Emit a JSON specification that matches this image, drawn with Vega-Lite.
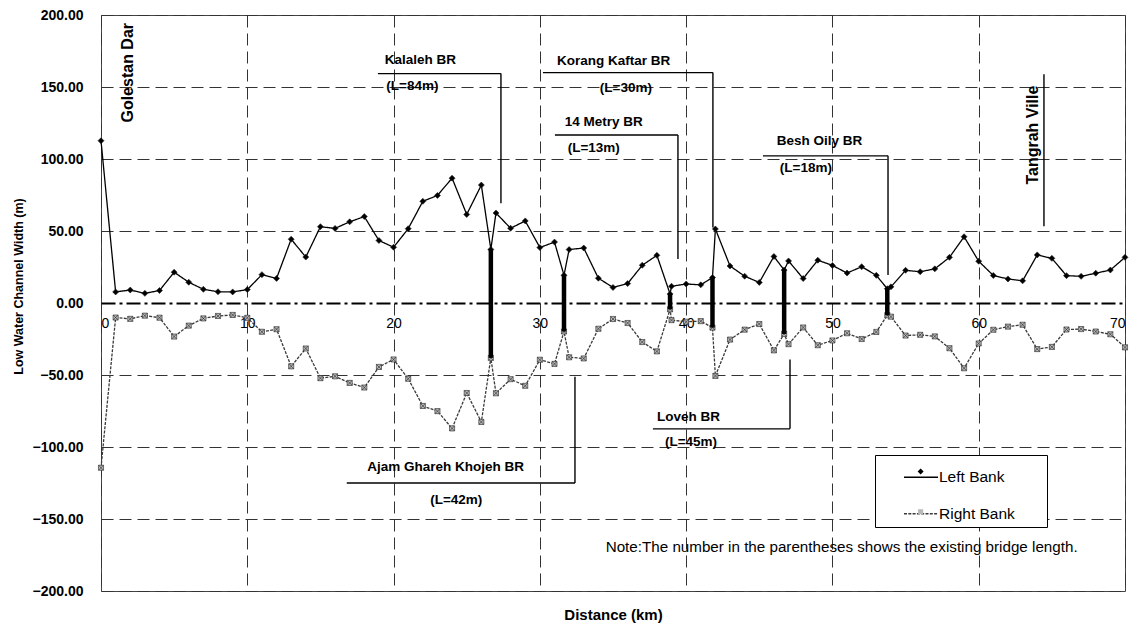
{
  "$schema": "https://vega.github.io/schema/vega-lite/v6.json",
  "width": 1024,
  "height": 576,
  "autosize": {"type": "none"},
  "padding": {"left": 101, "top": 15, "right": 4, "bottom": 32},
  "background": "#ffffff",
  "config": {
    "font": "Liberation Sans",
    "view": {"stroke": "#444444", "strokeWidth": 1}
  },
  "datasets": {
    "banks": [
      {"km": 0, "w": 112.7, "series": "Left Bank"},
      {"km": 1, "w": 7.7, "series": "Left Bank"},
      {"km": 2, "w": 9.0, "series": "Left Bank"},
      {"km": 3, "w": 6.7, "series": "Left Bank"},
      {"km": 4, "w": 8.7, "series": "Left Bank"},
      {"km": 5, "w": 21.4, "series": "Left Bank"},
      {"km": 6, "w": 14.4, "series": "Left Bank"},
      {"km": 7, "w": 9.5, "series": "Left Bank"},
      {"km": 8, "w": 7.8, "series": "Left Bank"},
      {"km": 9, "w": 7.7, "series": "Left Bank"},
      {"km": 10, "w": 9.3, "series": "Left Bank"},
      {"km": 11, "w": 19.7, "series": "Left Bank"},
      {"km": 12, "w": 17.1, "series": "Left Bank"},
      {"km": 13, "w": 44.3, "series": "Left Bank"},
      {"km": 14, "w": 31.9, "series": "Left Bank"},
      {"km": 15, "w": 53.0, "series": "Left Bank"},
      {"km": 16, "w": 51.8, "series": "Left Bank"},
      {"km": 17, "w": 56.4, "series": "Left Bank"},
      {"km": 18, "w": 60.0, "series": "Left Bank"},
      {"km": 19, "w": 43.4, "series": "Left Bank"},
      {"km": 20, "w": 38.7, "series": "Left Bank"},
      {"km": 21, "w": 51.6, "series": "Left Bank"},
      {"km": 22, "w": 70.6, "series": "Left Bank"},
      {"km": 23, "w": 74.7, "series": "Left Bank"},
      {"km": 24, "w": 86.7, "series": "Left Bank"},
      {"km": 25, "w": 61.5, "series": "Left Bank"},
      {"km": 26, "w": 81.9, "series": "Left Bank"},
      {"km": 26.65, "w": 37.2, "series": "Left Bank"},
      {"km": 27, "w": 62.5, "series": "Left Bank"},
      {"km": 28, "w": 51.9, "series": "Left Bank"},
      {"km": 29, "w": 57.0, "series": "Left Bank"},
      {"km": 30, "w": 38.5, "series": "Left Bank"},
      {"km": 31, "w": 42.3, "series": "Left Bank"},
      {"km": 31.65, "w": 19.3, "series": "Left Bank"},
      {"km": 32, "w": 37.1, "series": "Left Bank"},
      {"km": 33, "w": 38.2, "series": "Left Bank"},
      {"km": 34, "w": 17.2, "series": "Left Bank"},
      {"km": 35, "w": 10.8, "series": "Left Bank"},
      {"km": 36, "w": 13.5, "series": "Left Bank"},
      {"km": 37, "w": 26.2, "series": "Left Bank"},
      {"km": 38, "w": 33.1, "series": "Left Bank"},
      {"km": 38.9, "w": 6.3, "series": "Left Bank"},
      {"km": 39, "w": 11.6, "series": "Left Bank"},
      {"km": 40, "w": 13.2, "series": "Left Bank"},
      {"km": 41, "w": 12.6, "series": "Left Bank"},
      {"km": 41.8, "w": 17.7, "series": "Left Bank"},
      {"km": 42, "w": 51.4, "series": "Left Bank"},
      {"km": 43, "w": 25.7, "series": "Left Bank"},
      {"km": 44, "w": 18.6, "series": "Left Bank"},
      {"km": 45, "w": 14.3, "series": "Left Bank"},
      {"km": 46, "w": 32.3, "series": "Left Bank"},
      {"km": 46.7, "w": 22.9, "series": "Left Bank"},
      {"km": 47, "w": 29.2, "series": "Left Bank"},
      {"km": 48, "w": 17.0, "series": "Left Bank"},
      {"km": 49, "w": 29.7, "series": "Left Bank"},
      {"km": 50, "w": 26.1, "series": "Left Bank"},
      {"km": 51, "w": 20.8, "series": "Left Bank"},
      {"km": 52, "w": 25.2, "series": "Left Bank"},
      {"km": 53, "w": 19.2, "series": "Left Bank"},
      {"km": 53.75, "w": 9.9, "series": "Left Bank"},
      {"km": 54, "w": 11.2, "series": "Left Bank"},
      {"km": 55, "w": 22.7, "series": "Left Bank"},
      {"km": 56, "w": 21.7, "series": "Left Bank"},
      {"km": 57, "w": 23.7, "series": "Left Bank"},
      {"km": 58, "w": 31.7, "series": "Left Bank"},
      {"km": 59, "w": 46.0, "series": "Left Bank"},
      {"km": 60, "w": 29.0, "series": "Left Bank"},
      {"km": 61, "w": 19.1, "series": "Left Bank"},
      {"km": 62, "w": 16.7, "series": "Left Bank"},
      {"km": 63, "w": 15.4, "series": "Left Bank"},
      {"km": 64, "w": 33.4, "series": "Left Bank"},
      {"km": 65, "w": 31.0, "series": "Left Bank"},
      {"km": 66, "w": 19.0, "series": "Left Bank"},
      {"km": 67, "w": 18.5, "series": "Left Bank"},
      {"km": 68, "w": 20.7, "series": "Left Bank"},
      {"km": 69, "w": 22.9, "series": "Left Bank"},
      {"km": 70, "w": 31.7, "series": "Left Bank"},
      {"km": 0, "w": -114.4, "series": "Right Bank"},
      {"km": 1, "w": -10.1, "series": "Right Bank"},
      {"km": 2, "w": -11.0, "series": "Right Bank"},
      {"km": 3, "w": -8.8, "series": "Right Bank"},
      {"km": 4, "w": -10.2, "series": "Right Bank"},
      {"km": 5, "w": -23.3, "series": "Right Bank"},
      {"km": 6, "w": -15.7, "series": "Right Bank"},
      {"km": 7, "w": -10.7, "series": "Right Bank"},
      {"km": 8, "w": -9.0, "series": "Right Bank"},
      {"km": 9, "w": -8.3, "series": "Right Bank"},
      {"km": 10, "w": -10.3, "series": "Right Bank"},
      {"km": 11, "w": -20.0, "series": "Right Bank"},
      {"km": 12, "w": -18.2, "series": "Right Bank"},
      {"km": 13, "w": -44.0, "series": "Right Bank"},
      {"km": 14, "w": -31.6, "series": "Right Bank"},
      {"km": 15, "w": -52.2, "series": "Right Bank"},
      {"km": 16, "w": -50.9, "series": "Right Bank"},
      {"km": 17, "w": -55.5, "series": "Right Bank"},
      {"km": 18, "w": -58.7, "series": "Right Bank"},
      {"km": 19, "w": -44.4, "series": "Right Bank"},
      {"km": 20, "w": -39.2, "series": "Right Bank"},
      {"km": 21, "w": -52.6, "series": "Right Bank"},
      {"km": 22, "w": -71.5, "series": "Right Bank"},
      {"km": 23, "w": -75.1, "series": "Right Bank"},
      {"km": 24, "w": -87.1, "series": "Right Bank"},
      {"km": 25, "w": -62.5, "series": "Right Bank"},
      {"km": 26, "w": -82.6, "series": "Right Bank"},
      {"km": 26.65, "w": -38.1, "series": "Right Bank"},
      {"km": 27, "w": -62.7, "series": "Right Bank"},
      {"km": 28, "w": -52.9, "series": "Right Bank"},
      {"km": 29, "w": -57.5, "series": "Right Bank"},
      {"km": 30, "w": -39.4, "series": "Right Bank"},
      {"km": 31, "w": -42.3, "series": "Right Bank"},
      {"km": 31.65, "w": -19.8, "series": "Right Bank"},
      {"km": 32, "w": -37.7, "series": "Right Bank"},
      {"km": 33, "w": -38.5, "series": "Right Bank"},
      {"km": 34, "w": -17.9, "series": "Right Bank"},
      {"km": 35, "w": -11.1, "series": "Right Bank"},
      {"km": 36, "w": -13.9, "series": "Right Bank"},
      {"km": 37, "w": -27.1, "series": "Right Bank"},
      {"km": 38, "w": -33.6, "series": "Right Bank"},
      {"km": 38.9, "w": -4.4, "series": "Right Bank"},
      {"km": 39, "w": -11.9, "series": "Right Bank"},
      {"km": 40, "w": -13.0, "series": "Right Bank"},
      {"km": 41, "w": -12.6, "series": "Right Bank"},
      {"km": 41.8, "w": -17.1, "series": "Right Bank"},
      {"km": 42, "w": -50.6, "series": "Right Bank"},
      {"km": 43, "w": -25.4, "series": "Right Bank"},
      {"km": 44, "w": -18.5, "series": "Right Bank"},
      {"km": 45, "w": -14.6, "series": "Right Bank"},
      {"km": 46, "w": -32.9, "series": "Right Bank"},
      {"km": 46.7, "w": -21.5, "series": "Right Bank"},
      {"km": 47, "w": -28.6, "series": "Right Bank"},
      {"km": 48, "w": -17.0, "series": "Right Bank"},
      {"km": 49, "w": -29.3, "series": "Right Bank"},
      {"km": 50, "w": -26.0, "series": "Right Bank"},
      {"km": 51, "w": -21.0, "series": "Right Bank"},
      {"km": 52, "w": -25.0, "series": "Right Bank"},
      {"km": 53, "w": -20.1, "series": "Right Bank"},
      {"km": 53.75, "w": -8.5, "series": "Right Bank"},
      {"km": 54, "w": -9.5, "series": "Right Bank"},
      {"km": 55, "w": -22.6, "series": "Right Bank"},
      {"km": 56, "w": -22.1, "series": "Right Bank"},
      {"km": 57, "w": -23.2, "series": "Right Bank"},
      {"km": 58, "w": -31.4, "series": "Right Bank"},
      {"km": 59, "w": -45.3, "series": "Right Bank"},
      {"km": 60, "w": -28.1, "series": "Right Bank"},
      {"km": 61, "w": -18.6, "series": "Right Bank"},
      {"km": 62, "w": -16.4, "series": "Right Bank"},
      {"km": 63, "w": -15.1, "series": "Right Bank"},
      {"km": 64, "w": -32.0, "series": "Right Bank"},
      {"km": 65, "w": -30.5, "series": "Right Bank"},
      {"km": 66, "w": -18.4, "series": "Right Bank"},
      {"km": 67, "w": -18.1, "series": "Right Bank"},
      {"km": 68, "w": -19.8, "series": "Right Bank"},
      {"km": 69, "w": -21.7, "series": "Right Bank"},
      {"km": 70, "w": -30.8, "series": "Right Bank"}
    ],
    "bridges": [
      {"km": 26.65, "top": 37.2, "bottom": -38.1},
      {"km": 31.65, "top": 19.3, "bottom": -19.8},
      {"km": 38.9, "top": 6.3, "bottom": -4.4},
      {"km": 41.8, "top": 17.7, "bottom": -17.1},
      {"km": 46.7, "top": 22.9, "bottom": -21.5},
      {"km": 53.75, "top": 9.9, "bottom": -8.5}
    ],
    "leaders": [
      {"x1": 18.93, "y1": 159.3, "x2": 27.34, "y2": 159.3},
      {"x1": 27.34, "y1": 159.3, "x2": 27.34, "y2": 69.3},
      {"x1": 30.21, "y1": 160.0, "x2": 41.83, "y2": 160.0},
      {"x1": 41.83, "y1": 160.0, "x2": 41.83, "y2": 52.4},
      {"x1": 31.03, "y1": 116.7, "x2": 39.44, "y2": 116.7},
      {"x1": 39.44, "y1": 116.7, "x2": 39.44, "y2": 30.6},
      {"x1": 45.25, "y1": 102.2, "x2": 53.8, "y2": 102.2},
      {"x1": 53.8, "y1": 102.2, "x2": 53.8, "y2": 19.4},
      {"x1": 64.46, "y1": 158.9, "x2": 64.46, "y2": 53.3},
      {"x1": 16.8, "y1": -125.0, "x2": 32.4, "y2": -125.0},
      {"x1": 32.4, "y1": -125.0, "x2": 32.4, "y2": -51.3},
      {"x1": 37.73, "y1": -87.4, "x2": 47.1, "y2": -87.4},
      {"x1": 47.1, "y1": -87.4, "x2": 47.1, "y2": -39.2}
    ],
    "labels": [
      {"km": 19.4, "v": 168.5, "text": "Kalaleh BR"},
      {"km": 19.5, "v": 150.5, "text": "(L=84m)"},
      {"km": 31.17, "v": 168.2, "text": "Korang Kaftar BR"},
      {"km": 34.1, "v": 149.6, "text": "(L=30m)"},
      {"km": 31.7, "v": 125.8, "text": "14 Metry BR"},
      {"km": 31.9, "v": 107.8, "text": "(L=13m)"},
      {"km": 46.2, "v": 112.6, "text": "Besh Oily BR"},
      {"km": 46.4, "v": 93.9, "text": "(L=18m)"},
      {"km": 18.2, "v": -113.7, "text": "Ajam Ghareh Khojeh BR"},
      {"km": 22.5, "v": -137.1, "text": "(L=42m)"},
      {"km": 38.0, "v": -79.0, "text": "Loveh BR"},
      {"km": 38.55, "v": -96.5, "text": "(L=45m)"}
    ],
    "vlabels": [
      {"km": 1.85, "v": 159.9, "text": "Golestan Dar"},
      {"km": 63.7, "v": 116.6, "text": "Tangrah Ville"}
    ],
    "notes": [
      {"km": 34.5, "v": -169.7, "text": "Note:The number in the parentheses shows the existing bridge length."}
    ]
  },
  "layer": [
    {
      "data": {"name": "banks"},
      "mark": {"type": "line", "strokeWidth": 1.3},
      "encoding": {
        "x": {
          "field": "km", "type": "quantitative",
          "scale": {"domain": [0, 70], "nice": false},
          "axis": {
            "title": "Distance (km)",
            "values": [0, 10, 20, 30, 40, 50, 60, 70],
            "grid": true, "gridDash": [12, 6], "gridColor": "#333333", "gridWidth": 1,
            "domain": false, "ticks": false, "tickSize": 0,
            "labelPadding": -275, "labelFlush": true,
            "labelFontSize": 14, "labelColor": "#000000",
            "titleFontSize": 15, "titleFontWeight": "bold", "titleColor": "#000000",
            "titleY": 16, "titleBaseline": "top"
          }
        },
        "y": {
          "field": "w", "type": "quantitative",
          "scale": {"domain": [-200, 200], "nice": false},
          "axis": {
            "title": "Low Water Channel Width (m)",
            "values": [-200, -150, -100, -50, 0, 50, 100, 150, 200],
            "format": ".2f",
            "grid": true,
            "gridDash": {"condition": {"test": "datum.value === 0", "value": [14, 4, 3, 4]}, "value": [12, 6]},
            "gridWidth": {"condition": {"test": "datum.value === 0", "value": 2}, "value": 1},
            "gridColor": {"condition": {"test": "datum.value === 0", "value": "#000000"}, "value": "#333333"},
            "domain": false, "ticks": false, "tickSize": 0,
            "labelPadding": 18,
            "labelFontSize": 14, "labelFontWeight": "bold", "labelColor": "#000000",
            "titleFontSize": 12.5, "titleFontWeight": "bold", "titleColor": "#000000",
            "titleX": -83, "titleY": 271, "titleBaseline": "middle", "titleAlign": "center"
          }
        },
        "stroke": {
          "field": "series", "type": "nominal",
          "scale": {"domain": ["Left Bank", "Right Bank"], "range": ["#000000", "#3a3a3a"]},
          "legend": {
            "orient": "none", "legendX": 774, "legendY": 440, "title": " ",
            "titleOrient": "right", "titlePadding": 27, "titleFontSize": 15,
            "symbolType": "stroke", "symbolSize": 1156, "symbolStrokeWidth": 1.3,
            "padding": 4.25, "rowPadding": 9.5, "symbolOffset": 23.75, "labelOffset": 0,
            "labelFontSize": 15.5, "labelColor": "#000000", "labelFont": "Liberation Sans",
            "strokeColor": "#000000", "fillColor": "#ffffff", "zindex": 1
          }
        },
        "strokeDash": {
          "field": "series", "type": "nominal",
          "scale": {"domain": ["Left Bank", "Right Bank"], "range": [[1, 0], [3, 1.3]]},
          "legend": {
            "orient": "none", "legendX": 774, "legendY": 440, "title": " ",
            "titleOrient": "right", "titlePadding": 27, "titleFontSize": 15,
            "symbolType": "stroke", "symbolSize": 1156, "symbolStrokeWidth": 1.3,
            "padding": 4.25, "rowPadding": 9.5, "symbolOffset": 23.75, "labelOffset": 0,
            "labelFontSize": 15.5, "labelColor": "#000000", "labelFont": "Liberation Sans",
            "strokeColor": "#000000", "fillColor": "#ffffff", "zindex": 1
          }
        }
      }
    },
    {
      "data": {"name": "banks"},
      "mark": {"type": "point", "filled": true, "size": 36, "stroke": "#222222", "strokeWidth": 0.6, "opacity": 1},
      "encoding": {
        "x": {"field": "km", "type": "quantitative"},
        "y": {"field": "w", "type": "quantitative"},
        "shape": {
          "field": "series", "type": "nominal",
          "scale": {"range": ["diamond", "M-0.85,-0.85H0.85V0.85H-0.85ZM-0.85,-0.85L0.85,0.85M0.85,-0.85L-0.85,0.85"]},
          "legend": {
            "orient": "none", "legendX": 814.6, "legendY": 451.6, "title": null,
            "symbolSize": 36, "padding": 0, "rowPadding": 30.2, "labelOpacity": 0, "labelExpr": "''",
            "symbolStrokeColor": "#222222", "symbolStrokeWidth": 0.6, "zindex": 2
          }
        },
        "fill": {
          "field": "series", "type": "nominal",
          "scale": {"range": ["#000000", "#b8b8b8"]},
          "legend": {
            "orient": "none", "legendX": 814.6, "legendY": 451.6, "title": null,
            "symbolSize": 36, "padding": 0, "rowPadding": 30.2, "labelOpacity": 0, "labelExpr": "''",
            "symbolStrokeColor": "#222222", "symbolStrokeWidth": 0.6, "zindex": 2
          }
        }
      }
    },
    {
      "data": {"name": "bridges"},
      "mark": {"type": "rule", "strokeWidth": 4.5, "color": "#000000"},
      "encoding": {
        "x": {"field": "km", "type": "quantitative"},
        "y": {"field": "top", "type": "quantitative"},
        "y2": {"field": "bottom"}
      }
    },
    {
      "data": {"name": "leaders"},
      "mark": {"type": "rule", "strokeWidth": 1.4, "color": "#000000"},
      "encoding": {
        "x": {"field": "x1", "type": "quantitative"},
        "x2": {"field": "x2"},
        "y": {"field": "y1", "type": "quantitative"},
        "y2": {"field": "y2"}
      }
    },
    {
      "data": {"name": "labels"},
      "mark": {"type": "text", "align": "left", "baseline": "middle", "fontSize": 13.5, "fontWeight": "bold", "color": "#000000"},
      "encoding": {
        "x": {"field": "km", "type": "quantitative"},
        "y": {"field": "v", "type": "quantitative"},
        "text": {"field": "text"}
      }
    },
    {
      "data": {"name": "vlabels"},
      "mark": {"type": "text", "align": "center", "baseline": "middle", "angle": 270, "fontSize": 16, "fontWeight": "bold", "color": "#000000"},
      "encoding": {
        "x": {"field": "km", "type": "quantitative"},
        "y": {"field": "v", "type": "quantitative"},
        "text": {"field": "text"}
      }
    },
    {
      "data": {"name": "notes"},
      "mark": {"type": "text", "align": "left", "baseline": "middle", "fontSize": 15.2, "color": "#000000"},
      "encoding": {
        "x": {"field": "km", "type": "quantitative"},
        "y": {"field": "v", "type": "quantitative"},
        "text": {"field": "text"}
      }
    }
  ]
}
